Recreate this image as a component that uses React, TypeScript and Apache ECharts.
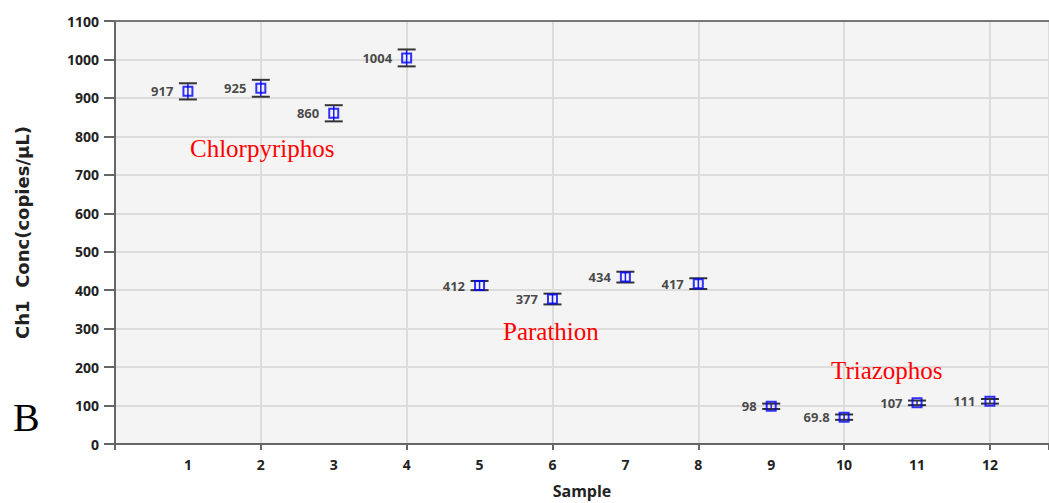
import React, { useEffect, useRef } from "react";
import * as echarts from "echarts";

const samples = [1, 2, 3, 4, 5, 6, 7, 8, 9, 10, 11, 12];
const concentrations = [917, 925, 860, 1004, 412, 377, 434, 417, 98, 69.8, 107, 111];
const errors = [21, 22, 21, 22, 12, 14, 14, 14, 7, 7, 6, 6];
const valueLabels = ["917", "925", "860", "1004", "412", "377", "434", "417", "98", "69.8", "107", "111"];
const yTicks = [0, 100, 200, 300, 400, 500, 600, 700, 800, 900, 1000, 1100];
const xMax = 12.81;

const FONT = "'Open Sans', 'Liberation Sans', sans-serif";
const SERIF = "'Liberation Serif', 'DejaVu Serif', serif";

export default function App() {
  const ref = useRef<HTMLDivElement>(null);
  useEffect(() => {
    if (!ref.current) return;
    const chart = echarts.init(ref.current, undefined, { renderer: "svg" });
    const pointData = samples.map((s, i) => [s, concentrations[i], errors[i]]);
    chart.setOption({
      animation: false,
      backgroundColor: "#ffffff",
      grid: {
        left: 115,
        right: 0,
        top: 21,
        bottom: 59,
        show: true,
        backgroundColor: "#f4f4f4",
        borderWidth: 0,
        containLabel: false,
        outerBoundsMode: "none",
      },
      xAxis: [
        {
          type: "value",
          min: 0,
          max: xMax,
          interval: 1,
          position: "bottom",
          name: "Sample",
          nameLocation: "middle",
          nameGap: 39,
          nameTextStyle: { fontFamily: FONT, fontWeight: "bold", fontSize: 16, color: "#222" },
          axisLine: { show: true, lineStyle: { color: "#666", width: 2 } },
          axisTick: { show: false },
          splitLine: { show: false },
          axisLabel: {
            margin: 13,
            fontFamily: FONT,
            fontWeight: "bold",
            fontSize: 14,
            color: "#222",
            formatter: (v: number) => (v >= 1 && v <= 12 && Number.isInteger(v) ? String(v) : ""),
          },
          z: 3,
        },
        {
          type: "value",
          min: 0,
          max: xMax,
          interval: 2,
          position: "bottom",
          axisLine: { show: false },
          axisTick: { show: true, length: 6, lineStyle: { color: "#666", width: 2 } },
          axisLabel: { show: false },
          splitLine: { show: true, lineStyle: { color: "#dcdcdc", width: 2 } },
        },
        {
          type: "value",
          min: 0,
          max: xMax,
          position: "top",
          axisLine: { show: true, lineStyle: { color: "#777", width: 2 } },
          axisTick: { show: false },
          axisLabel: { show: false },
          splitLine: { show: false },
        },
      ],
      yAxis: {
        type: "value",
        min: yTicks[0],
        max: yTicks[yTicks.length - 1],
        interval: 100,
        name: "Ch1  Conc(copies/µL)",
        nameLocation: "middle",
        nameGap: 84,
        nameTextStyle: { fontFamily: "'DejaVu Sans', sans-serif", fontWeight: "bold", fontSize: 18, color: "#222" },
        axisLine: { show: true, lineStyle: { color: "#666", width: 2 } },
        axisTick: { show: true, length: 11, lineStyle: { color: "#666", width: 2 } },
        axisLabel: {
          margin: 16,
          fontFamily: FONT,
          fontWeight: "bold",
          fontSize: 14,
          color: "#222",
          formatter: (v: number) => String(v),
        },
        splitLine: { show: true, lineStyle: { color: "#dcdcdc", width: 2 } },
      },
      series: [
        {
          type: "custom",
          xAxisIndex: 0,
          data: pointData,
          z: 4,
          renderItem: (params: any, api: any) => {
            const x = api.value(0);
            const y = api.value(1);
            const e = api.value(2);
            const top = api.coord([x, y + e]);
            const bot = api.coord([x, y - e]);
            const cap = 9;
            return {
              type: "group",
              children: [
                { type: "line", shape: { x1: top[0], y1: top[1], x2: bot[0], y2: bot[1] }, style: { stroke: "#1a1aff", lineWidth: 1.5 } },
                { type: "line", shape: { x1: top[0] - cap, y1: top[1], x2: top[0] + cap, y2: top[1] }, style: { stroke: "#333", lineWidth: 2 } },
                { type: "line", shape: { x1: bot[0] - cap, y1: bot[1], x2: bot[0] + cap, y2: bot[1] }, style: { stroke: "#333", lineWidth: 2 } },
              ],
            };
          },
        },
        {
          type: "scatter",
          xAxisIndex: 0,
          data: pointData.map((d) => [d[0], d[1]]),
          symbol: "rect",
          symbolSize: 9,
          z: 5,
          itemStyle: { color: "rgba(0,0,0,0)", borderColor: "#0000ff", borderWidth: 2 },
          label: {
            show: true,
            position: "left",
            distance: 9,
            fontFamily: FONT,
            fontWeight: "bold",
            fontSize: 13,
            color: "#1a1a1a",
            formatter: (p: any) => valueLabels[p.dataIndex],
          },
        },
      ],
      graphic: [
        { type: "text", x: 190, y: 148, z: 100, style: { text: "Chlorpyriphos", fill: "#ff0000", font: `25px ${SERIF}`, textVerticalAlign: "middle" } },
        { type: "text", x: 503, y: 331, z: 100, style: { text: "Parathion", fill: "#ff0000", font: `25px ${SERIF}`, textVerticalAlign: "middle" } },
        { type: "text", x: 831, y: 370, z: 100, style: { text: "Triazophos", fill: "#ff0000", font: `25px ${SERIF}`, textVerticalAlign: "middle" } },
        { type: "text", x: 13, y: 417, z: 100, style: { text: "B", fill: "#000", font: `40px ${SERIF}`, textVerticalAlign: "middle" } },
      ],
    });
    return () => chart.dispose();
  }, []);
  return <div ref={ref} style={{ position: "fixed", left: 0, top: 0, width: 1049, height: 503 }} />;
}
